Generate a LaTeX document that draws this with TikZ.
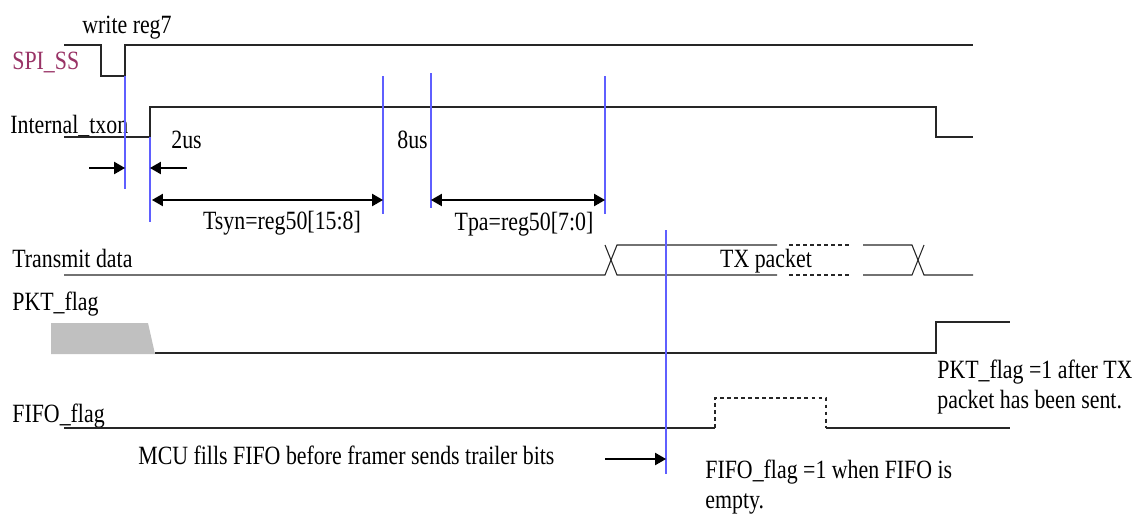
\documentclass[tikz,border=0pt]{standalone}
\usepackage{fontspec}
\setmainfont{Liberation Serif}[FakeStretch=0.83]
\usetikzlibrary{arrows.meta}
\definecolor{ssred}{RGB}{153,51,102}
\definecolor{mkblue}{RGB}{95,95,255}
\definecolor{flaggray}{RGB}{192,192,192}

\begin{document}
\begin{tikzpicture}[x=0.02cm, y=-0.02cm, >={Triangle[length=6.2pt,width=7pt]},
  wave/.style={black!85, line width=0.6pt},
  dashwave/.style={wave, dash pattern=on 2.2pt off 1.8pt},
  marker/.style={mkblue, line width=0.8pt},
  dimline/.style={line width=0.6pt, black},
  lbl/.style={font=\fontsize{15}{17}\selectfont, inner sep=0pt, anchor=base west}]

  \useasboundingbox (0,0) rectangle (1141,521);

  % --- signal names ---
  \node[lbl] (wreg) at (82,33) {write reg7};
  \node[lbl, text=ssred] (spiss) at (12,69) {SPI\_SS};
  \node[lbl] (txon) at (10,133) {Internal\_txon};
  \node[lbl] (txdata) at (12,267) {Transmit data};
  \node[lbl] (pktflag) at (12,310) {PKT\_flag};
  \node[lbl] (fifoflag) at (12,422) {FIFO\_flag};

  % --- waveforms ---
  \draw[wave] (64,45) -- (101,45) -- (101,76) -- (125,76) -- (125,45) -- (973,45);
  \draw[wave] (64,137) -- (150,137) -- (150,107) -- (936,107) -- (936,137) -- (973,137);

  \draw[wave] (64,275) -- (605,275) -- (617,245) -- (777,245);
  \draw[wave] (605,245) -- (617,275) -- (777,275);
  \draw[dashwave] (789,245) -- (851,245);
  \draw[dashwave] (789,275) -- (851,275);
  \draw[wave] (863,245) -- (912,245) -- (924,275) -- (973,275);
  \draw[wave] (863,275) -- (912,275) -- (924,245);
  \node[lbl, anchor=base] (txpkt) at (766,267) {TX packet};

  \fill[flaggray] (51,323) -- (148,323) -- (155,354) -- (51,354) -- cycle;
  \draw[wave] (155,353) -- (936,353) -- (936,322) -- (1010,322);

  \draw[wave] (64,428) -- (715,428);
  \draw[dashwave] (715,428) -- (715,398) -- (826,398) -- (826,428);
  \draw[wave] (826,428) -- (1010,428);

  % --- timing markers ---
  \coordinate (m1t) at (125,76);  \coordinate (m1b) at (125,189);
  \coordinate (m2t) at (150,137); \coordinate (m2b) at (150,222);
  \coordinate (m3t) at (383,76);  \coordinate (m3b) at (383,214);
  \coordinate (m4t) at (431,73);  \coordinate (m4b) at (431,208);
  \coordinate (m5t) at (605,76);  \coordinate (m5b) at (605,214);
  \coordinate (m6t) at (666,230); \coordinate (m6b) at (666,474);
  \draw[marker] (m1t) -- (m1b);
  \draw[marker] (m2t) -- (m2b);
  \draw[marker] (m3t) -- (m3b);
  \draw[marker] (m4t) -- (m4b);
  \draw[marker] (m5t) -- (m5b);
  \draw[marker] (m6t) -- (m6b);

  % --- delays ---
  \coordinate (inL) at (89,168);
  \coordinate (inR) at (187,168);
  \draw[dimline, ->] (inL) -- (m1t |- inL);
  \draw[dimline, ->] (inR) -- (m2t |- inR);
  \node[lbl] (twous) at (171,148) {2us};
  \node[lbl] (eightus) at (397,148) {8us};

  \coordinate (syn) at (152,200);
  \draw[dimline, <->] (syn) -- (m3t |- syn);
  \node[lbl, anchor=base] (tsyn) at (282,229) {Tsyn=reg50[15:8]};

  \coordinate (pa) at (431,200);
  \draw[dimline, <->] (pa) -- (m5t |- pa);
  \node[lbl, anchor=base] (tpa) at (524,230) {Tpa=reg50[7:0]};

  % --- notes ---
  \node[lbl] (mcu) at (138,464) {MCU fills FIFO before framer sends trailer bits};
  \coordinate (mcuarr) at (605,459);
  \draw[dimline, ->] (mcuarr) -- (m6t |- mcuarr);

  \node[lbl, align=left] (pktnote) at (937,408)
    {PKT\_flag =1 after TX\\packet has been sent.};
  \node[lbl, align=left] (fifonote) at (705,508)
    {FIFO\_flag =1 when FIFO is\\empty.};

\end{tikzpicture}
\end{document}
